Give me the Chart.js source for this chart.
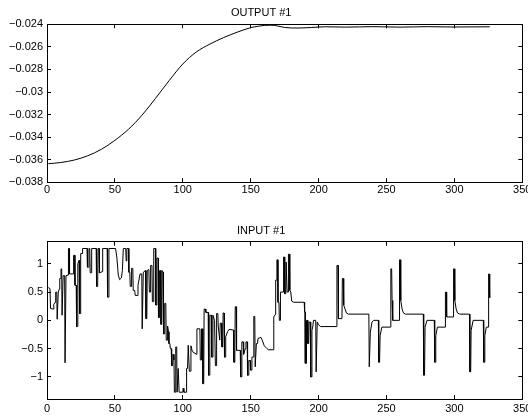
<!DOCTYPE html>
<html>
<head>
<meta charset="utf-8">
<script src="https://cdn.jsdelivr.net/npm/chart.js@4"></script>
<style>
    body { margin: 0; background: #fff; }
    .box { position: absolute; left: 0; width: 528px; height: 209px; }
</style>
</head>
<body>
<div class="box" style="top:0"><canvas id="outChart" width="528" height="209"></canvas></div>
<div class="box" style="top:209px"><canvas id="inChart" width="528" height="209"></canvas></div>
<script>
// OUTPUT #1 - smooth step response
const outX = [1, 10, 20, 30, 40, 50, 60, 70, 80, 90, 100, 110, 120, 130, 140, 150, 155, 160, 165, 170, 175, 185, 195,
    205, 220, 240, 260, 280, 300, 326];
const outY = [-0.03635, -0.03625, -0.03603, -0.03565, -0.03508, -0.03428, -0.0333, -0.03205, -0.03055, -0.02898,
    -0.02752, -0.02645, -0.02575, -0.02518, -0.0247, -0.0243, -0.02418, -0.0241, -0.02408, -0.02415, -0.02428,
    -0.02433, -0.02428, -0.02422, -0.02425, -0.02421, -0.02425, -0.02421, -0.02424, -0.02422];

// INPUT #1 - breakpoints of the input signal
const inX = [1, 2.2, 2.6, 4.5, 5, 6, 6.4, 7.2, 7.5, 8, 8.3, 9, 9.4, 10, 10.3, 10.8, 11.1, 11.6, 11.9, 13, 13.3, 13.7, 14, 15.5,
    15.8, 16.3, 16.6, 19.3, 19.6, 20.3, 20.6, 21.5, 21.8, 22.4, 22.7, 23.6, 24, 24.5, 24.8, 25.8, 26.2, 29.5, 29.8, 30.6,
    30.9, 31.5, 31.8, 32.6, 32.9, 36.2, 36.5, 37.3, 37.6, 38.3, 38.6, 40.6, 41, 44.3, 44.6, 45.3, 45.6, 50.5, 51.5, 52.5,
    53.5, 54.8, 55.5, 56.2, 58, 58.3, 58.8, 60, 60.3, 61, 61.3, 62, 62.3, 63.2, 63.5, 64.5, 65, 66.5, 67, 68.5, 69.8, 70.1,
    70.6, 70.9, 72.5, 72.9, 73.5, 73.8, 75, 75.4, 76, 76.3, 77.3, 77.6, 78.3, 78.6, 79.8, 80.1, 80.6, 80.9, 81.8, 82.1,
    82.6, 82.9, 83.6, 83.9, 84.5, 84.8, 85.5, 85.8, 86.4, 86.7, 87.5, 87.8, 88.5, 88.8, 89.5, 89.8, 90.5, 90.8, 91.5, 91.8,
    92.5, 92.8, 93.5, 93.8, 94.5, 94.8, 95.5, 95.8, 96.3, 96.6, 97, 97.3, 100, 100.3, 100.8, 102.5, 102.8, 103.5, 104,
    104.5, 104.8, 105.6, 106, 107, 110, 110.4, 112.6, 112.9, 113.5, 113.8, 114.5, 114.8, 115.4, 115.7, 116.6, 117, 118.7,
    119, 119.6, 119.9, 121, 121.3, 121.9, 122.2, 123.4, 124, 124.6, 124.9, 125.8, 126.1, 127.2, 127.6, 128.5, 128.8,
    129.4, 129.7, 130.4, 130.7, 131.3, 131.6, 133, 134, 137.3, 137.6, 138.3, 138.6, 139.3, 139.6, 142.3, 142.6, 143.2,
    143.5, 144.5, 144.8, 146, 146.5, 147.4, 147.7, 148.3, 148.6, 149.6, 149.9, 150.6, 150.9, 152, 152.3, 153, 153.3,
    153.9, 154.2, 155, 155.4, 157.5, 158.5, 160, 162, 163, 166.5, 167, 168, 168.4, 169, 169.3, 169.8, 170.1, 170.8, 171.1,
    171.6, 171.9, 173.9, 174.2, 174.8, 175.1, 175.8, 176.1, 176.5, 176.8, 177.5, 177.8, 178.5, 178.8, 179.5, 180.2,
    181.5, 189.4, 189.7, 190, 190.2, 190.8, 191.1, 191.8, 192.1, 192.7, 193, 193.9, 194.2, 194.8, 195.1, 195.8, 196.2,
    197.9, 198.2, 198.7, 199, 200, 201.5, 213.2, 213.5, 214.3, 214.6, 217.2, 217.5, 218.2, 218.5, 219.5, 220.5, 222,
    237, 237.3, 237.8, 238.1, 239.3, 240.5, 244, 244.3, 244.9, 245.3, 246.6, 252.9, 253.2, 253.8, 254.1, 254.6, 259.3,
    259.6, 260.2, 260.5, 261.5, 262.5, 264, 277.1, 277.4, 278, 278.4, 279.8, 285.2, 285.5, 286, 286.3, 287.5, 293.1,
    293.4, 294, 294.3, 299.1, 299.4, 300, 300.3, 301.3, 302.3, 304, 311.1, 311.4, 312, 312.3, 313.8, 321.3, 321.6, 322.1,
    322.4, 323.5, 324.9, 325.2, 325.6, 326];
const inY = [0.58, 0.56, 0.21, 0.2, 0.28, 0.32, 0.5, 0.5, 0.02, 0.02, 0.5, 0.55, 0.74, 0.74, 0.91, 0.91, 0.09, 0.09, 0.79, 0.79,
    -0.75, -0.75, 0.79, 0.8, 1.27, 1.27, 0.82, 0.82, 1.15, 1.15, 0.62, 0.62, -0.11, -0.11, 1.0, 1.06, 0.12, 0.12, 1.18,
    1.18, 1.27, 1.27, 0.94, 0.94, 1.27, 1.27, 0.84, 0.84, 1.27, 1.27, 0.6, 0.6, 1.27, 1.27, 0.84, 0.86, 1.27, 1.27, 0.41,
    0.41, 1.27, 1.27, 1.1, 0.8, 0.72, 0.75, 0.88, 1.27, 1.27, 1.05, 1.27, 1.27, 0.85, 0.85, 0.6, 0.6, 0.92, 0.92, 0.53,
    0.53, 0.44, 0.44, 0.62, 0.82, 0.82, -0.15, -0.15, 0.85, 0.88, 0.03, 0.03, 0.88, 0.9, 0.5, 0.5, 0.97, 0.97, 0.33,
    0.33, 1.27, 1.27, 0.27, 0.27, 1.1, 1.1, 0.05, 0.05, 0.88, 0.88, -0.07, -0.07, 0.88, 0.85, -0.24, -0.24, 0.3, 0.3,
    -0.35, -0.35, -0.1, -0.2, -0.41, -0.41, -0.5, -0.5, -0.8, -0.8, -0.6, -0.7, -1.27, -1.27, -0.47, -0.47, -1.27,
    -1.27, -0.85, -0.85, -1.27, -1.27, -1.2, -1.27, -1.27, -0.85, -0.85, -0.44, -0.44, -0.9, -0.9, -0.45, -0.55, -0.6,
    -0.15, -0.15, -0.7, -0.7, -0.15, -0.15, -1.12, -1.12, 0.2, 0.2, 0.14, 0.14, -0.97, -0.97, 0.09, 0.09, -0.65, -0.65,
    0.09, 0.0, -0.8, -0.8, 0.12, 0.12, -0.1, -0.35, -0.05, -0.05, -0.47, -0.47, 0.13, 0.13, -0.65, -0.65, -0.29, -0.2,
    -0.16, -0.17, -0.74, -0.74, 0.24, 0.24, -0.53, -0.53, -1.0, -1.0, -0.38, -0.38, -0.6, -0.5, -0.38, -0.38, -0.97,
    -0.97, -0.71, -0.71, -0.88, -0.88, -0.65, -0.65, 0.07, 0.07, -0.82, -0.82, -0.41, -0.41, -0.32, -0.3, -0.35, -0.45,
    -0.5, -0.52, -0.52, 0.06, 0.1, 0.71, 0.71, 1.07, 1.07, 0.32, 0.32, 0.0, 0.0, 0.5, 0.5, 1.12, 1.12, 0.47, 0.47, 1.03,
    1.03, 0.5, 0.5, 1.17, 1.17, 0.53, 0.5, 0.34, 0.32, 0.32, 0.15, 0.15, -0.76, -0.76, 0.0, 0.0, -0.41, -0.41, -0.03,
    -0.03, -1.0, -1.0, -0.18, -0.1, 0.0, 0.0, -0.91, -0.91, -0.03, -0.08, -0.11, -0.11, 0.97, 0.97, 0.03, 0.03, 0.74,
    0.74, 0.27, 0.2, 0.13, 0.11, 0.11, -0.82, -0.82, -0.21, -0.03, 0.0, 0.0, -0.74, -0.74, -0.27, -0.12, -0.12, 0.91,
    0.91, 0.35, 0.0, 0.0, 1.07, 1.07, 0.35, 0.2, 0.13, 0.11, 0.11, -0.97, -0.97, -0.12, 0.0, 0.0, -0.74, -0.74, -0.27,
    -0.12, -0.12, 0.5, 0.5, 0.06, 0.06, 0.91, 0.91, 0.35, 0.2, 0.13, 0.11, 0.11, -0.91, -0.91, -0.18, 0.0, 0.0, -0.74,
    -0.74, -0.27, -0.12, -0.12, 0.82, 0.82, 0.4];

const xTicks = [0, 50, 100, 150, 200, 250, 300, 350];
const outTicks = [-0.038, -0.036, -0.034, -0.032, -0.03, -0.028, -0.026, -0.024];
const inTicks = [-1, -0.5, 0, 0.5, 1];

Chart.defaults.font.family = '"Liberation Sans", Arial, sans-serif';
Chart.defaults.font.size = 11;
Chart.defaults.color = '#000';

function fmt(v) {
    return String(+Number(v).toFixed(4)).replace('-', '\u2212');
}

function setTicks(values) {
    return (scale) => { scale.ticks = values.map((v) => ({ value: v })); };
}

function fitTo(size) {
    return (scale) => {
        if (scale.isHorizontal()) scale.height = size; else scale.width = size;
        scale.paddingLeft = 0;
        scale.paddingRight = 0;
        scale.paddingTop = 0;
        scale.paddingBottom = 0;
    };
}

function axis(position, min, max, ticks, size, labels, pad) {
    return {
        type: 'linear',
        position: position,
        display: true,
        min: min,
        max: max,
        afterBuildTicks: setTicks(ticks),
        afterFit: fitTo(size),
        grid: { drawOnChartArea: false, tickLength: -4, color: '#000', lineWidth: 1 },
        border: { display: true, color: '#000', width: 1 },
        ticks: { display: labels, padding: pad, autoSkip: false, maxRotation: 0, color: '#000', callback: fmt }
    };
}

function makeChart(id, title, titlePad, xs, ys, yMin, yMax, yTicks, xAxisH, xPad, smooth) {
    const ctx = document.getElementById(id).getContext('2d');
    return new Chart(ctx, {
        type: 'line',
        data: {
            datasets: [{
                data: xs.map((x, i) => ({ x: x, y: ys[i] })),
                borderColor: '#000',
                borderWidth: 1,
                pointRadius: 0,
                fill: false,
                cubicInterpolationMode: smooth ? 'monotone' : 'default',
                tension: 0
            }]
        },
        options: {
            responsive: false,
            animation: false,
            layout: { padding: { left: 0, right: 5.7, top: 0, bottom: 0 } },
            plugins: {
                legend: { display: false },
                tooltip: { enabled: false },
                title: {
                    display: true,
                    text: title,
                    color: '#000',
                    font: { size: 11, weight: 'normal' },
                    padding: titlePad
                }
            },
            scales: {
                x: axis('bottom', 0, 350, xTicks, xAxisH, true, xPad),
                x2: axis('top', 0, 350, xTicks, 0, false, 0),
                y: axis('left', yMin, yMax, yTicks, 47, true, 8),
                y2: axis('right', yMin, yMax, yTicks, 0, false, 0)
            }
        }
    });
}

makeChart('outChart', 'OUTPUT #1', { top: 6, bottom: 5.1 }, outX, outY, -0.038, -0.024, outTicks, 26.7, 5.5, true);
makeChart('inChart', 'INPUT #1', { top: 15, bottom: 4.5 }, inX, inY, -1.39, 1.39, inTicks, 19, 7.5, false);
</script>
</body>
</html>
